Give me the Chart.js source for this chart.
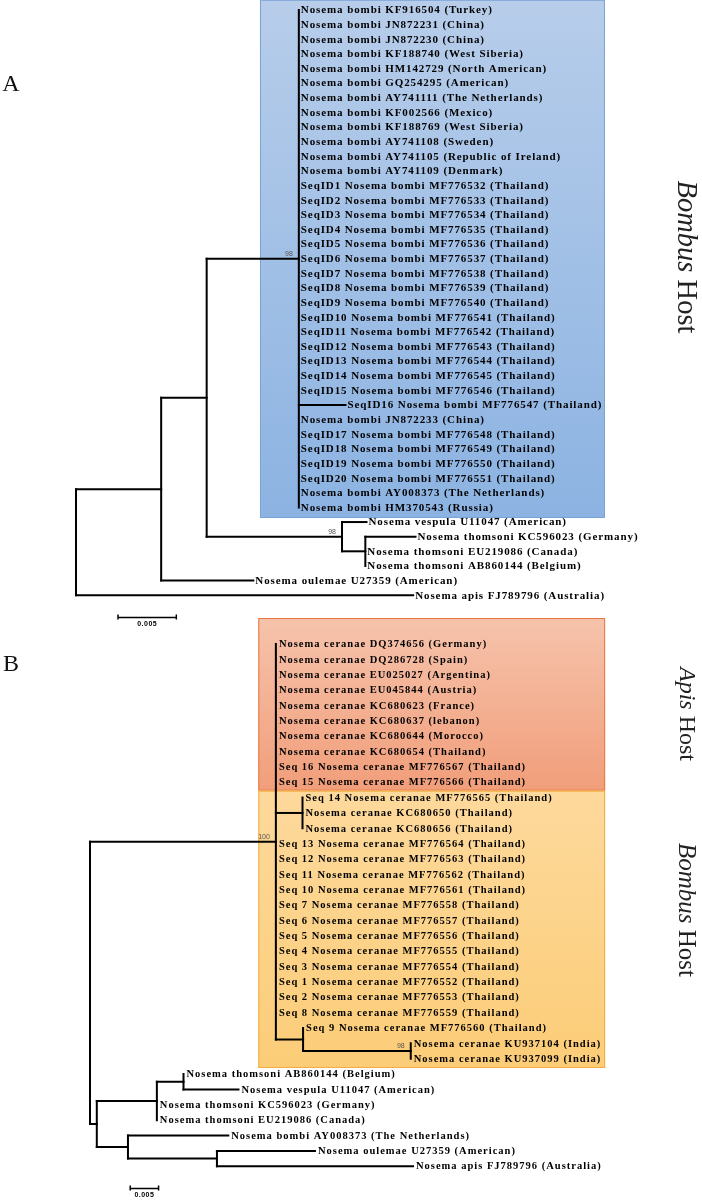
<!DOCTYPE html>
<html>
<head>
<meta charset="utf-8">
<script src="https://cdn.jsdelivr.net/npm/chart.js@4.4.1/dist/chart.umd.min.js"></script>
<style>
  body { margin: 0; background: #fff; }
  #wrap { position: relative; width: 702px; height: 1200px; overflow: hidden; }
  #tree { position: absolute; left: 0; top: 0; }
  .panel { position: absolute; font: 24px "Liberation Serif", serif; color: #111; transform: translate(-50%, -50%); }
  .host { position: absolute; font-family: "Liberation Serif", serif; color: #222; writing-mode: vertical-rl;
          transform: translate(-50%, -50%); white-space: nowrap; }
</style>
</head>
<body>
<div id="wrap">
  <canvas id="tree" width="702" height="1200"></canvas>
  <div class="panel" style="left:11px;top:83px">A</div>
  <div class="panel" style="left:11px;top:663px">B</div>
  <div class="host" style="left:687px;top:257px;font-size:28.5px"><i>Bombus</i> Host</div>
  <div class="host" style="left:687px;top:714px;font-size:24px"><i>Apis</i> Host</div>
  <div class="host" style="left:687px;top:910px;font-size:25px"><i>Bombus</i> Host</div>
</div>
<script>
// ---- tree A (Nosema bombi) ----
const aLeaves = [
  "Nosema bombi KF916504 (Turkey)",
  "Nosema bombi JN872231 (China)",
  "Nosema bombi JN872230 (China)",
  "Nosema bombi KF188740 (West Siberia)",
  "Nosema bombi HM142729 (North American)",
  "Nosema bombi GQ254295 (American)",
  "Nosema bombi AY741111 (The Netherlands)",
  "Nosema bombi KF002566 (Mexico)",
  "Nosema bombi KF188769 (West Siberia)",
  "Nosema bombi AY741108 (Sweden)",
  "Nosema bombi AY741105 (Republic of Ireland)",
  "Nosema bombi AY741109 (Denmark)",
  "SeqID1 Nosema bombi MF776532 (Thailand)",
  "SeqID2 Nosema bombi MF776533 (Thailand)",
  "SeqID3 Nosema bombi MF776534 (Thailand)",
  "SeqID4 Nosema bombi MF776535 (Thailand)",
  "SeqID5 Nosema bombi MF776536 (Thailand)",
  "SeqID6 Nosema bombi MF776537 (Thailand)",
  "SeqID7 Nosema bombi MF776538 (Thailand)",
  "SeqID8 Nosema bombi MF776539 (Thailand)",
  "SeqID9 Nosema bombi MF776540 (Thailand)",
  "SeqID10 Nosema bombi MF776541 (Thailand)",
  "SeqID11 Nosema bombi MF776542 (Thailand)",
  "SeqID12 Nosema bombi MF776543 (Thailand)",
  "SeqID13 Nosema bombi MF776544 (Thailand)",
  "SeqID14 Nosema bombi MF776545 (Thailand)",
  "SeqID15 Nosema bombi MF776546 (Thailand)",
  "SeqID16 Nosema bombi MF776547 (Thailand)",
  "Nosema bombi JN872233 (China)",
  "SeqID17 Nosema bombi MF776548 (Thailand)",
  "SeqID18 Nosema bombi MF776549 (Thailand)",
  "SeqID19 Nosema bombi MF776550 (Thailand)",
  "SeqID20 Nosema bombi MF776551 (Thailand)",
  "Nosema bombi AY008373 (The Netherlands)",
  "Nosema bombi HM370543 (Russia)",
  "Nosema vespula U11047 (American)",
  "Nosema thomsoni KC596023 (Germany)",
  "Nosema thomsoni EU219086 (Canada)",
  "Nosema thomsoni AB860144 (Belgium)",
  "Nosema oulemae U27359 (American)",
  "Nosema apis FJ789796 (Australia)"
];
// internal nodes: distance from root and parent node
const aNodeDist = [0, 0.0073, 0.0112, 0.0191, 0.0228, 0.0248];
const aNodeParent = [-1, 0, 1, 2, 2, 4];
// each leaf: parent node and distance from root
const aLeafParent = [
  3, 3, 3, 3, 3, 3, 3, 3, 3, 3, 3, 3, 3, 3, 3, 3, 3, 3, 3, 3,
  3, 3, 3, 3, 3, 3, 3, 3, 3, 3, 3, 3, 3, 3, 3, 4, 5, 5, 5, 1, 0
];
const aLeafDist = [
  0.0191, 0.0191, 0.0191, 0.0191, 0.0191, 0.0191, 0.0191, 0.0191, 0.0191, 0.0191,
  0.0191, 0.0191, 0.0191, 0.0191, 0.0191, 0.0191, 0.0191, 0.0191, 0.0191, 0.0191,
  0.0191, 0.0191, 0.0191, 0.0191, 0.0191, 0.0191, 0.0191, 0.0231, 0.0191, 0.0191,
  0.0191, 0.0191, 0.0191, 0.0191, 0.0191, 0.0249, 0.0291, 0.0248, 0.0248, 0.0152, 0.0289
];
const aBootNode = [3, 4];
const aBootLabel = ["98", "98"];

// ---- tree B (Nosema ceranae) ----
const bLeaves = [
  "Nosema ceranae DQ374656 (Germany)",
  "Nosema ceranae DQ286728 (Spain)",
  "Nosema ceranae EU025027 (Argentina)",
  "Nosema ceranae EU045844 (Austria)",
  "Nosema ceranae KC680623 (France)",
  "Nosema ceranae KC680637 (lebanon)",
  "Nosema ceranae KC680644 (Morocco)",
  "Nosema ceranae KC680654 (Thailand)",
  "Seq 16 Nosema ceranae MF776567 (Thailand)",
  "Seq 15 Nosema ceranae MF776566 (Thailand)",
  "Seq 14 Nosema ceranae MF776565 (Thailand)",
  "Nosema ceranae KC680650 (Thailand)",
  "Nosema ceranae KC680656 (Thailand)",
  "Seq 13 Nosema ceranae MF776564 (Thailand)",
  "Seq 12 Nosema ceranae MF776563 (Thailand)",
  "Seq 11 Nosema ceranae MF776562 (Thailand)",
  "Seq 10 Nosema ceranae MF776561 (Thailand)",
  "Seq 7 Nosema ceranae MF776558 (Thailand)",
  "Seq 6 Nosema ceranae MF776557 (Thailand)",
  "Seq 5 Nosema ceranae MF776556 (Thailand)",
  "Seq 4 Nosema ceranae MF776555 (Thailand)",
  "Seq 3 Nosema ceranae MF776554 (Thailand)",
  "Seq 1 Nosema ceranae MF776552 (Thailand)",
  "Seq 2 Nosema ceranae MF776553 (Thailand)",
  "Seq 8 Nosema ceranae MF776559 (Thailand)",
  "Seq 9 Nosema ceranae MF776560 (Thailand)",
  "Nosema ceranae KU937104 (India)",
  "Nosema ceranae KU937099 (India)",
  "Nosema thomsoni AB860144 (Belgium)",
  "Nosema vespula U11047 (American)",
  "Nosema thomsoni KC596023 (Germany)",
  "Nosema thomsoni EU219086 (Canada)",
  "Nosema bombi AY008373 (The Netherlands)",
  "Nosema oulemae U27359 (American)",
  "Nosema apis FJ789796 (Australia)"
];
const bNodeDist = [0, 0.0328, 0.0375, 0.0376, 0.0566, 0.0012, 0.0118, 0.0165, 0.0067, 0.0224];
const bNodeParent = [-1, 0, 1, 1, 3, 0, 5, 6, 5, 8];
const bLeafParent = [
  1, 1, 1, 1, 1, 1, 1, 1, 1, 1, 2, 2, 2, 1, 1, 1, 1, 1, 1, 1,
  1, 1, 1, 1, 1, 3, 4, 4, 7, 7, 6, 6, 8, 9, 9
];
const bLeafDist = [
  0.0328, 0.0328, 0.0328, 0.0328, 0.0328, 0.0328, 0.0328, 0.0328, 0.0328, 0.0328,
  0.0375, 0.0375, 0.0375, 0.0328, 0.0328, 0.0328, 0.0328, 0.0328, 0.0328, 0.0328,
  0.0328, 0.0328, 0.0328, 0.0328, 0.0328, 0.0376, 0.0566, 0.0566, 0.0165, 0.0262,
  0.0118, 0.0118, 0.0244, 0.0397, 0.0570
];
const bBootNode = [1, 4];
const bBootLabel = ["100", "98"];

const scaleBarLen = 0.005;

// node y = middle of its first and last child (rows)
function layoutTree(nodeDist, nodeParent, leafParent) {
  const n = nodeDist.length;
  const lo = Array(n).fill(Infinity), hi = Array(n).fill(-Infinity), y = Array(n);
  leafParent.forEach((p, row) => {
    lo[p] = Math.min(lo[p], row);
    hi[p] = Math.max(hi[p], row);
  });
  for (let i = n - 1; i >= 0; i--) {
    y[i] = (lo[i] + hi[i]) / 2;
    const p = nodeParent[i];
    if (p >= 0) {
      lo[p] = Math.min(lo[p], y[i]);
      hi[p] = Math.max(hi[p], y[i]);
    }
  }
  return { y, lo, hi };
}

function seg(x1, y1, x2, y2, xId, yId) {
  return {
    data: [{ x: x1, y: y1 }, { x: x2, y: y2 }],
    xAxisID: xId, yAxisID: yId,
    borderColor: "#000", borderWidth: 2, borderCapStyle: "square",
    pointRadius: 0, tension: 0, fill: false,
  };
}

function treeSegments(nodeDist, nodeParent, leafParent, leafDist, xId, yId) {
  const t = layoutTree(nodeDist, nodeParent, leafParent);
  const out = [];
  nodeDist.forEach((d, i) => {
    out.push(seg(d, t.lo[i], d, t.hi[i], xId, yId));
    const p = nodeParent[i];
    if (p >= 0 && d > nodeDist[p]) out.push(seg(nodeDist[p], t.y[i], d, t.y[i], xId, yId));
  });
  leafParent.forEach((p, row) => {
    if (leafDist[row] > nodeDist[p] + 1e-6) out.push(seg(nodeDist[p], row, leafDist[row], row, xId, yId));
  });
  return { out, t };
}

const treeA = treeSegments(aNodeDist, aNodeParent, aLeafParent, aLeafDist, "xA", "yA");
const treeB = treeSegments(bNodeDist, bNodeParent, bLeafParent, bLeafDist, "xB", "yB");

const decor = {
  id: "treeDecor",
  beforeDatasetsDraw(chart) {
    const c = chart.ctx, s = chart.scales;
    function box(xs, ys, x0, x1, r0, r1, top, bottom, edge) {
      const L = xs.getPixelForValue(x0), R = xs.getPixelForValue(x1);
      const T = ys.getPixelForValue(r0), B = ys.getPixelForValue(r1);
      const g = c.createLinearGradient(0, T, 0, B);
      g.addColorStop(0, top);
      g.addColorStop(1, bottom);
      c.fillStyle = g;
      c.fillRect(L, T, R - L, B - T);
      c.strokeStyle = edge;
      c.lineWidth = 1;
      c.strokeRect(L + 0.5, T + 0.5, R - L - 1, B - T - 1);
    }
    c.save();
    box(s.xA, s.yA, 0.01577, 0.04534, -0.70, 34.72, "#b7cdea", "#8cb3e2", "#7aa3d6");
    box(s.xB, s.yB, 0.0297, 0.0909, -1.69, 9.55, "#f6c3ac", "#f19e7a", "#e7773f");
    box(s.xB, s.yB, 0.0297, 0.0909, 9.55, 27.6, "#fdd99c", "#fccd78", "#f2ad3c");
    c.restore();
  },
  afterDatasetsDraw(chart) {
    const c = chart.ctx, s = chart.scales;
    c.save();
    c.fillStyle = "#000";
    c.textBaseline = "middle";
    c.textAlign = "left";

    c.font = "bold 11px 'Liberation Serif', serif";
    c.letterSpacing = "0.9px";
    aLeaves.forEach((lab, r) => {
      c.fillText(lab, s.xA.getPixelForValue(aLeafDist[r]) + 2, s.yA.getPixelForValue(r) + 0.5);
    });
    c.font = "bold 10.5px 'Liberation Serif', serif";
    c.letterSpacing = "1px";
    bLeaves.forEach((lab, r) => {
      c.fillText(lab, s.xB.getPixelForValue(bLeafDist[r]) + 3, s.yB.getPixelForValue(r) + 0.5);
    });

    // bootstrap values
    c.letterSpacing = "0px";
    c.font = "7px 'Liberation Sans', sans-serif";
    c.fillStyle = "#555";
    c.textAlign = "right";
    c.textBaseline = "bottom";
    aBootNode.forEach((n, i) => {
      c.fillText(aBootLabel[i], s.xA.getPixelForValue(aNodeDist[n]) - 6, s.yA.getPixelForValue(treeA.t.y[n]) - 1);
    });
    bBootNode.forEach((n, i) => {
      c.fillText(bBootLabel[i], s.xB.getPixelForValue(bNodeDist[n]) - 6, s.yB.getPixelForValue(treeB.t.y[n]) - 1);
    });

    // scale bars
    function scaleBar(xs, ys, x0, row) {
      const L = xs.getPixelForValue(x0), R = xs.getPixelForValue(x0 + scaleBarLen);
      const Y = Math.round(ys.getPixelForValue(row)) + 0.5;
      c.strokeStyle = "#000";
      c.lineWidth = 1.5;
      c.beginPath();
      c.moveTo(L, Y); c.lineTo(R, Y);
      c.moveTo(L, Y - 3); c.lineTo(L, Y + 2);
      c.moveTo(R, Y - 3); c.lineTo(R, Y + 2);
      c.stroke();
      c.fillStyle = "#000";
      c.textAlign = "center";
      c.textBaseline = "top";
      c.font = "bold 7px 'Liberation Sans', sans-serif";
      c.letterSpacing = "0.5px";
      c.fillText(String(scaleBarLen), (L + R) / 2, Y + 3);
    }
    scaleBar(s.xA, s.yA, 0.0036, 41.5);
    scaleBar(s.xB, s.yB, 0.0071, 35.42);
    c.restore();
  },
};

window.onload = function () {
  const ctx = document.getElementById("tree").getContext("2d");
  new Chart(ctx, {
    type: "line",
    data: { datasets: treeA.out.concat(treeB.out) },
    options: {
      responsive: false,
      animation: false,
      layout: { padding: 0 },
      plugins: { legend: { display: false }, tooltip: { enabled: false } },
      scales: {
        x: { type: "linear", display: false },
        y: { type: "linear", display: false },
        xA: { type: "linear", axis: "x", display: false, min: -0.006514, max: 0.053656 },
        yA: { type: "linear", axis: "y", display: false, reverse: true, min: -0.68353, max: 81.3397 },
        xB: { type: "linear", axis: "x", display: false, min: -0.015881, max: 0.107994 },
        yB: { type: "linear", axis: "y", display: false, reverse: true, min: -41.927, max: 36.198 },
      },
    },
    plugins: [decor],
  });
};
</script>
</body>
</html>
